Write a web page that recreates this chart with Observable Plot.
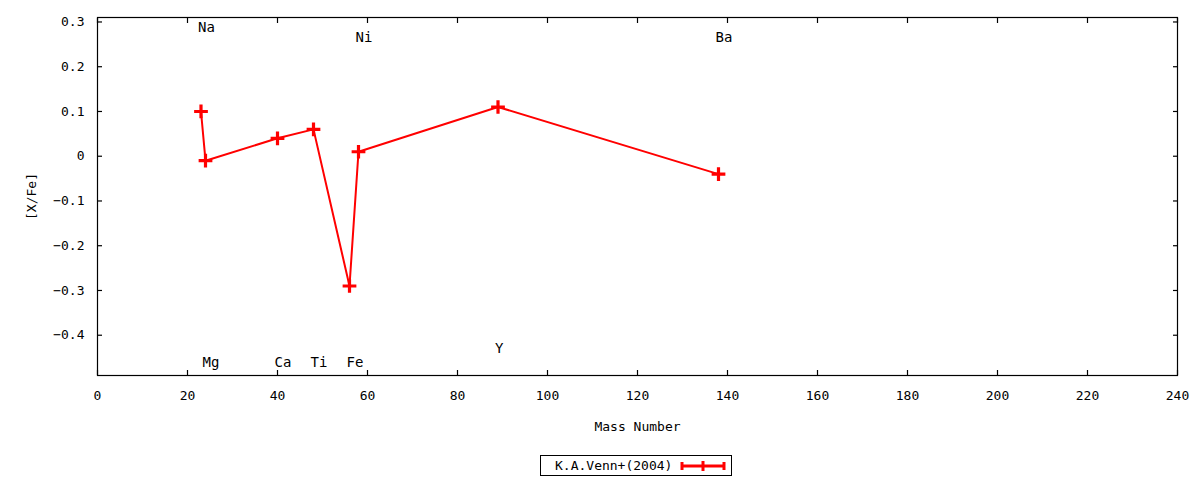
<!DOCTYPE html>
<html>
<head>
<meta charset="utf-8">
<script src="https://cdn.jsdelivr.net/npm/d3@7"></script>
<script src="https://cdn.jsdelivr.net/npm/@observablehq/plot@0.6"></script>
<style>
  body { margin: 0; background: #fff; }
  #chart-display { width: 1200px; font-family: "DejaVu Sans Mono", monospace; }
  #legend { height: 30px; position: relative; }
  #legend .box {
    position: absolute; left: 540px; top: 5px; width: 190px; height: 19px;
    border: 1px solid #000; font: 13px "DejaVu Sans Mono", monospace;
    display: flex; align-items: center;
  }
  #legend .box span { margin-left: 14px; }
  #legend svg { margin-left: 8px; }
</style>
</head>
<body>
<div id="chart-display"></div>
<script>
window.onload = async () => {
  // K.A.Venn+(2004) abundances
  let elements = ["Na", "Mg", "Ca", "Ti", "Fe", "Ni", "Y", "Ba"]
  let massNumber = [23, 24, 40, 48, 56, 58, 89, 138]
  let xFe = [0.10, -0.01, 0.04, 0.06, -0.29, 0.01, 0.11, -0.04]
  let labelY = [0.288, -0.46, -0.46, -0.46, -0.46, 0.265, -0.43, 0.265]

  let xTicks = d3.range(0, 241, 20)
  let yTicks = [-0.4, -0.3, -0.2, -0.1, 0, 0.1, 0.2, 0.3]

  let rows = elements.map((el, i) => ({
    el, mass: massNumber[i], value: xFe[i], ly: labelY[i]
  }))

  const font = "DejaVu Sans Mono, monospace"

  const plot = Plot.plot({
    width: 1200,
    height: 450,
    marginLeft: 97,
    marginRight: 23,
    marginTop: 17,
    marginBottom: 75,
    style: {fontFamily: font, fontSize: "13px", color: "#000", background: "#fff"},
    x: {domain: [0, 240]},
    y: {domain: [-0.49, 0.31]},
    marks: [
      Plot.frame({stroke: "#000", strokeWidth: 1.2}),
      // inward ticks on all four sides (no text)
      Plot.axisX(xTicks, {anchor: "bottom", tickSize: -5, fill: "none", strokeWidth: 1.2}),
      Plot.axisX(xTicks, {anchor: "top", tickSize: -5, fill: "none", strokeWidth: 1.2}),
      Plot.axisY(yTicks, {anchor: "left", tickSize: -5, fill: "none", strokeWidth: 1.2}),
      Plot.axisY(yTicks, {anchor: "right", tickSize: -5, fill: "none", strokeWidth: 1.2}),
      // tick labels and axis titles
      Plot.axisX(xTicks, {anchor: "bottom", tickSize: 0, tickPadding: 15, fontSize: 13, label: "Mass Number", labelAnchor: "center", labelArrow: "none", labelOffset: 55}),
      Plot.axisY(yTicks, {anchor: "left", tickSize: 0, tickPadding: 13, fontSize: 13, tickFormat: d => d === 0 ? "0" : d3.format(".1f")(d), label: "[X/Fe]", labelAnchor: "center", labelArrow: "none", labelOffset: 71}),
      Plot.line(rows, {x: "mass", y: "value", stroke: "#ff0000", strokeWidth: 2}),
      Plot.dot(rows, {x: "mass", y: "value", symbol: "plus", stroke: "#ff0000", strokeWidth: 3.2, r: 4.5}),
      Plot.text(rows, {x: "mass", y: "ly", text: "el", textAnchor: "start", dx: -3, fontSize: 14, fill: "#000"})
    ]
  })

  const holder = document.querySelector("#chart-display")
  holder.append(plot)

  const legend = document.createElement("div")
  legend.id = "legend"
  legend.innerHTML = `<div class="box"><span>K.A.Venn+(2004)</span>
    <svg width="46" height="12" viewBox="0 0 46 12">
      <line x1="2" y1="6" x2="44" y2="6" stroke="#ff0000" stroke-width="3"/>
      <line x1="2" y1="2" x2="2" y2="10" stroke="#ff0000" stroke-width="3"/>
      <line x1="44" y1="2" x2="44" y2="10" stroke="#ff0000" stroke-width="3"/>
      <line x1="23" y1="1" x2="23" y2="11" stroke="#ff0000" stroke-width="3"/>
    </svg></div>`
  holder.append(legend)
}
</script>
</body>
</html>
